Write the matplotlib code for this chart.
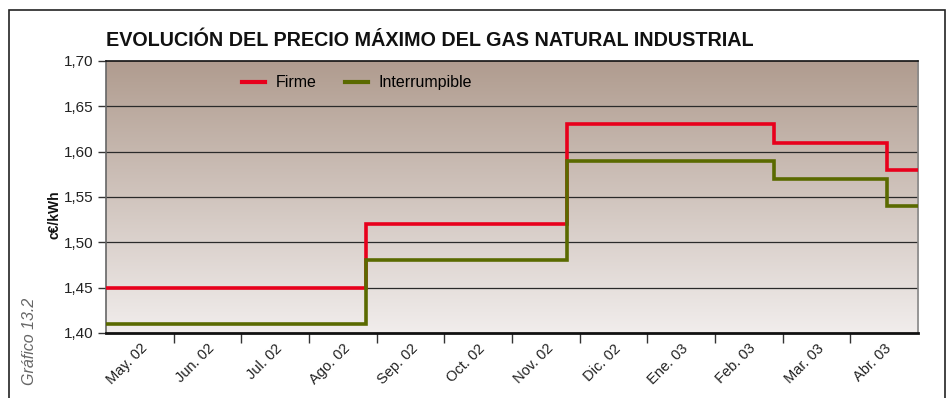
import matplotlib
matplotlib.use("Agg")
import matplotlib.pyplot as plt
import numpy as np
from matplotlib.patches import Rectangle

# Monthly categories on the x axis
months = ["May. 02", "Jun. 02", "Jul. 02", "Ago. 02", "Sep. 02", "Oct. 02",
          "Nov. 02", "Dic. 02", "Ene. 03", "Feb. 03", "Mar. 03", "Abr. 03"]

# Price change points, in months elapsed since the start of May 2002
change_points = [0.0, 3.84, 6.82, 9.87, 11.54, 12.0]
# Price in force from each change point (c€/kWh)
firme = [1.45, 1.52, 1.63, 1.61, 1.58]
interrumpible = [1.41, 1.48, 1.59, 1.57, 1.54]

y_ticks = [1.40, 1.45, 1.50, 1.55, 1.60, 1.65, 1.70]

plt.rcParams["font.family"] = ["Liberation Sans", "DejaVu Sans"]

fig = plt.figure(figsize=(9.47, 3.98), dpi=100)
W, H = 947, 398
ax = fig.add_axes([106 / W, 1 - 333 / H, (918 - 106) / W, (333 - 61) / H])

# Outer frame of the figure
fig.patches.append(Rectangle((9 / W, -0.05), (945 - 9) / W, 1 - 10 / H + 0.05,
                             transform=fig.transFigure, fill=False,
                             edgecolor="#222222", linewidth=1.2, zorder=0))

# Vertical gradient background
top = np.array([176, 156, 143]) / 255
bot = np.array([241, 237, 236]) / 255
t = np.linspace(0, 1, 256)[:, None]
grad = top[None, :] * (1 - t) + bot[None, :] * t
ax.imshow(grad[:, None, :], extent=[0, 1, 0, 1], transform=ax.transAxes,
          aspect="auto", zorder=0, interpolation="bilinear")

ax.set_xlim(0, 12)
ax.set_ylim(1.40, 1.70)

for y in y_ticks[1:-1]:
    ax.axhline(y, color="#2a2a2a", linewidth=0.9, zorder=1)

def steps(values):
    xs, ys = [], []
    for i, v in enumerate(values):
        xs += [change_points[i], change_points[i + 1]]
        ys += [v, v]
    return xs, ys

xg, yg = steps(interrumpible)
xr, yr = steps(firme)
ax.plot(xr, yr, color="#e8001c", linewidth=2.6, zorder=3,
        solid_joinstyle="miter", label="Firme")
ax.plot(xg, yg, color="#5a6a00", linewidth=2.6, zorder=4,
        solid_joinstyle="miter", label="Interrumpible")

# Axes styling
for side in ["top", "bottom"]:
    ax.spines[side].set_color("#111111")
ax.spines["bottom"].set_linewidth(2.0)
ax.spines["top"].set_linewidth(1.2)
ax.spines["left"].set_color("#666666")
ax.spines["right"].set_color("#888888")
ax.spines["left"].set_linewidth(1.2)
ax.spines["right"].set_linewidth(1.2)

ax.set_yticks(y_ticks)
ax.set_yticklabels([f"{v:.2f}".replace(".", ",") for v in y_ticks])
ax.tick_params(axis="y", direction="out", length=6, width=1, color="#333333",
               labelsize=11, labelcolor="#222222", pad=3)

ax.set_xticks(np.arange(1, 12))
ax.set_xticklabels([])
ax.set_xticks(np.arange(12) + 0.5, minor=True)
ax.set_xticklabels(months, minor=True, rotation=45, ha="right",
                   rotation_mode="anchor", fontsize=10.5, color="#222222")
ax.tick_params(axis="x", which="major", direction="out", length=7, width=1,
               color="#333333")
ax.tick_params(axis="x", which="minor", length=0, pad=6)

leg = ax.legend(loc="upper left", bbox_to_anchor=(0.150, 1.0), ncol=2,
                frameon=False, fontsize=11.5, handlelength=1.4,
                columnspacing=1.8, handletextpad=0.7)
for line in leg.get_lines():
    line.set_linewidth(3)

fig.text(106 / W, 1 - 41 / H, "EVOLUCIÓN DEL PRECIO MÁXIMO DEL GAS NATURAL INDUSTRIAL",
         fontsize=14.2, fontweight="bold", color="#111111", va="center", ha="left")
fig.text(54 / W, 1 - 215 / H, "c€/kWh", rotation=90, fontsize=10,
         fontweight="bold", va="center", ha="center", color="#111111")
fig.text(30 / W, 1 - 341 / H, "Gráfico 13.2", rotation=90, fontsize=11.5,
         style="italic", va="center", ha="center", color="#666666")

fig.savefig("out.png", dpi=100)
